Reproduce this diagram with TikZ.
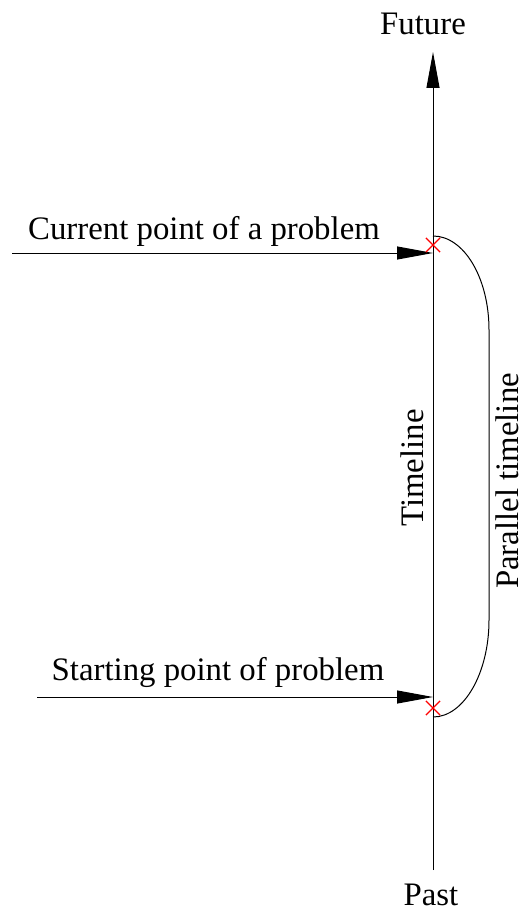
\documentclass[tikz,border=0pt]{standalone}
\usepackage{fontspec}
\setmainfont{Liberation Serif}
\usetikzlibrary{arrows.meta,positioning,calc,shapes.misc}

\begin{document}
\begin{tikzpicture}[x=0.5pt, y=-0.5pt,
  lbl/.style={font=\fontsize{16.4}{19}\selectfont, inner sep=0pt},
  line/.style={line width=0.5pt},
  arr/.style={line, -{Triangle[length=18pt,width=6.5pt]}},
  crossmark/.style={draw=red, cross out, line width=0.6pt, minimum size=6.5pt, inner sep=0pt}
]
\useasboundingbox (0,0) rectangle (525,909);

% main timeline
\coordinate (past) at (433,870);
\coordinate (future) at (433,52);
\draw[arr] (past) -- (future);
\node[lbl, anchor=base] (fut) at (423,35) {Future};
\node[lbl, anchor=base] (pst) at (431,905) {Past};
\node[lbl, anchor=base, rotate=90] (tl) at (423,468) {Timeline};

% current point
\coordinate (curtail) at (12,253);
\coordinate (curtip) at (433,253);
\draw[arr] (curtail) -- (curtip);
\node[lbl, anchor=base] (curlbl) at (204,240) {Current point of a problem};
\node[crossmark] (curx) at (433,245) {};

% starting point
\coordinate (sttail) at (37,697);
\coordinate (sttip) at (433,697);
\draw[arr] (sttail) -- (sttip);
\node[lbl, anchor=base] (stlbl) at (218,680) {Starting point of problem};
\node[crossmark] (stx) at (433,708) {};

% parallel timeline
\coordinate (partop) at (433,236);
\coordinate (parbot) at (433,717);
\draw[line] (partop) .. controls (464,236) and (489,278) .. (489,330)
  -- (489,620) .. controls (489,673) and (464,717) .. (parbot);
\node[lbl, anchor=base, rotate=90] (ptl) at (518,481) {Parallel timeline};

\end{tikzpicture}
\end{document}
